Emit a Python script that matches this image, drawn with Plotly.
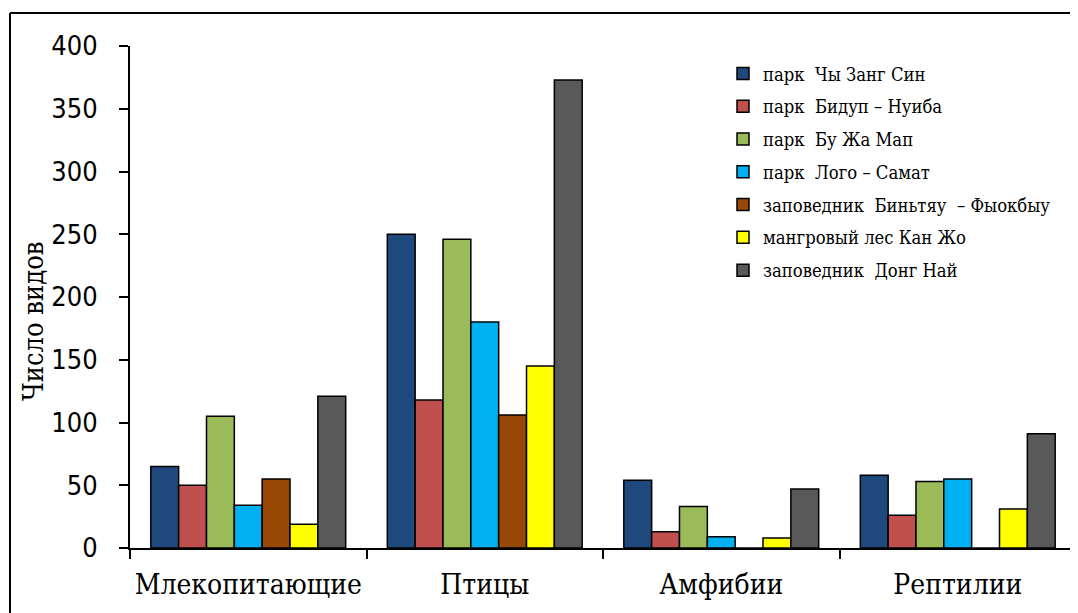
import plotly.graph_objects as go

categories = ["Млекопитающие", "Птицы", "Амфибии", "Рептилии"]
series_names = [
    "парк  Чы Занг Син",
    "парк  Бидуп – Нуиба",
    "парк  Бу Жа Мап",
    "парк  Лого – Самат",
    "заповедник  Биньтяу  – Фыокбыу",
    "мангровый лес Кан Жо",
    "заповедник  Донг Най",
]
chu_yang_sin = [65, 250, 54, 58]
bidoup_nui_ba = [50, 118, 13, 26]
yok_don = [105, 246, 33, 53]
lo_go_xa_mat = [34, 180, 9, 55]
binh_chau = [55, 106, 0, 0]
can_gio = [19, 145, 8, 31]
dong_nai = [121, 373, 47, 91]
series_values = [chu_yang_sin, bidoup_nui_ba, yok_don, lo_go_xa_mat, binh_chau, can_gio, dong_nai]
colors = ["#1F497D", "#C0504D", "#9BBB59", "#00B0F0", "#974706", "#FFFF00", "#595959"]
y_ticks = [0, 50, 100, 150, 200, 250, 300, 350, 400]

SERIF = "DejaVu Serif Condensed, DejaVu Serif"

W, H = 1078, 613
OFF = 8  # page body margin
L, T = 130 - OFF, 46 - OFF
R = W - (1076 - OFF)
B = H - (548 - OFF)
pw, ph = W - L - R, H - T - B

def px(x):
    return (x - OFF - L) / pw

def py(y):
    return 1 - (y - OFF - T) / ph

fig = go.Figure()
for i, (name, vals, col) in enumerate(zip(series_names, series_values, colors)):
    fig.add_trace(go.Bar(
        x=categories, y=vals, name=name, legendgroup=f"g{i}",
        marker=dict(color=col, line=dict(color="black", width=1.5)),
    ))

fig.update_layout(
    width=W, height=H,
    margin=dict(l=L, r=R, t=T, b=B, autoexpand=False),
    paper_bgcolor="white", plot_bgcolor="white",
    barmode="group", bargap=0.176, bargroupgap=0,
    showlegend=True,
    legend=dict(
        x=px(723), y=py(55), xanchor="left", yanchor="top",
        font=dict(family=SERIF, size=18.3, color="black"),
        tracegroupgap=6, bgcolor="rgba(0,0,0,0)",
    ),
    xaxis=dict(
        showline=True, linecolor="black", linewidth=2,
        ticks="outside", tickson="boundaries", ticklen=9, tickwidth=2, tickcolor="black",
        tickfont=dict(family=SERIF, size=28, color="black"), tickangle=0,
        ticklabelstandoff=10,
        showgrid=False, zeroline=False, automargin=False,
    ),
    yaxis=dict(
        range=[0, 400], tickvals=y_ticks,
        showline=True, linecolor="black", linewidth=2,
        ticks="outside", ticklen=9, tickwidth=2, tickcolor="black",
        tickfont=dict(family="DejaVu Sans Condensed, DejaVu Sans", size=27, color="black"),
        ticklabelstandoff=16,
        showgrid=False, zeroline=False, automargin=False,
    ),
    annotations=[dict(
        text="Число видов", textangle=-90,
        x=px(33), y=py(322), xref="paper", yref="paper",
        xanchor="center", yanchor="middle", showarrow=False,
        font=dict(family=SERIF, size=27, color="black"),
    )],
    shapes=[
        dict(type="line", xref="paper", yref="paper", x0=px(10), y0=py(13), x1=px(1090), y1=py(13),
             line=dict(color="black", width=2)),
        dict(type="line", xref="paper", yref="paper", x0=px(10), y0=py(13), x1=px(10), y1=py(630),
             line=dict(color="black", width=2)),
    ],
)

fig.write_html("out.html")
